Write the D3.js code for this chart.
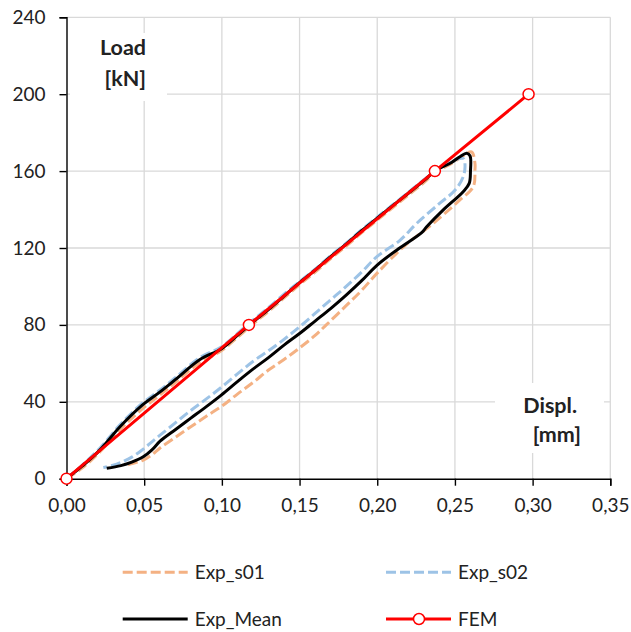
<!DOCTYPE html>
<html><head><meta charset="utf-8">
<script src="https://cdn.jsdelivr.net/npm/d3@7"></script>
<style>body{margin:0;background:#fff}svg{display:block}text{font-family:Lato,"Open Sans",sans-serif;fill:#222}</style>
</head><body><svg id="c" width="631" height="632"></svg>
<script>
const xTicks = [0,0.05,0.10,0.15,0.20,0.25,0.30,0.35];
const yTicks = [0,40,80,120,160,200,240];

const s01X = [0,0.01,0.0216,0.0344,0.0484,0.06,0.07,0.0859,0.0996,0.11,0.12,0.13,0.14,0.15,0.16,0.17,0.18,0.19,0.20,0.21,0.22,0.23,0.2371,0.2478,0.2545,0.2607,0.2629,0.2629,0.2618,0.2532,0.236,0.2175,0.1998,0.190,0.180,0.1672,0.160,0.150,0.140,0.130,0.120,0.110,0.0996,0.090,0.080,0.070,0.0602,0.055,0.0494,0.043,0.037];
const s01Y = [0,5.5,14,25.5,36,43.5,50,60.5,66.5,73.5,80.5,87,94,101,107.5,114.5,121,128,134.5,141,147.5,154,159,164,167.5,170,164,160.6,151.9,145,132.8,121,106.8,98,90,80,74.5,68,62,56.5,50,44,37.5,32.5,27,21.5,16,12.5,9.7,8,6.8];

const s02X = [0,0.01,0.0216,0.0344,0.0484,0.06,0.07,0.0859,0.0996,0.11,0.12,0.13,0.14,0.15,0.16,0.17,0.18,0.19,0.20,0.21,0.22,0.23,0.2371,0.245,0.2515,0.2555,0.2565,0.2553,0.250,0.2403,0.2254,0.2146,0.1998,0.190,0.180,0.170,0.160,0.150,0.140,0.130,0.120,0.110,0.0996,0.090,0.080,0.070,0.060,0.054,0.048,0.042,0.036,0.030,0.0237];
const s02Y = [0,7,16,28,39,46,52.5,63,68.5,75.5,82.5,89,96,102.5,109,116,122.5,129.5,136,142.5,149,155.5,160,163.5,166.3,166.5,163,157,150,143.3,132.8,124,115.5,107.5,100,93,86,79,72.5,66.5,61,54.5,47.5,41.5,35.5,29,22.5,18.5,14.5,11.2,8.8,7,5.8];

const meanX = [0,0.01,0.0216,0.0344,0.0484,0.06,0.07,0.0859,0.0996,0.11,0.12,0.13,0.14,0.15,0.16,0.17,0.18,0.19,0.20,0.21,0.22,0.23,0.2371,0.2478,0.2532,0.2575,0.2597,0.2600,0.2592,0.2553,0.2425,0.2318,0.2286,0.2135,0.1998,0.190,0.180,0.170,0.160,0.150,0.140,0.130,0.120,0.110,0.0996,0.090,0.080,0.070,0.0602,0.055,0.0494,0.042,0.035,0.0259];
const meanY = [0,6.5,15,27,38,45,51.5,62,67.5,74.5,81.5,88,95,102,108.5,115.5,122,129,135.5,142,148.5,155,160,164.5,167.5,169.3,168,160,153.6,149.3,139.8,131,128,119.5,111,103,95.5,88.5,82,75.5,69.5,63,57,50.5,43.5,37.5,31.5,25.5,19.5,15,11.4,8.6,6.8,5.4];

const femX = [0,0.1174,0.2371,0.2974];
const femY = [0,80,160,200];

const svg = d3.select("#c");
const x = d3.scaleLinear().domain([0,0.35]).range([66.5,610.3]);
const y = d3.scaleLinear().domain([0,240]).range([478.7,17.3]);

// grid
const g = svg.append("g");
g.selectAll(".gx").data(xTicks.slice(1)).enter().append("line")
 .attr("x1",d=>x(d)).attr("x2",d=>x(d)).attr("y1",y(0)).attr("y2",y(240))
 .attr("stroke","#d9d9d9").attr("stroke-width",1.3);
g.selectAll(".gy").data(yTicks.slice(1)).enter().append("line")
 .attr("x1",x(0)).attr("x2",x(0.35)).attr("y1",d=>y(d)).attr("y2",d=>y(d))
 .attr("stroke","#d9d9d9").attr("stroke-width",1.3);

// white label boxes
svg.append("rect").attr("x",70).attr("y",33).attr("width",97).attr("height",68).attr("fill","#fff");
svg.append("rect").attr("x",495).attr("y",383).attr("width",109).attr("height",70).attr("fill","#fff");

// axes
const fmt = d=>d.toFixed(2).replace(".",",");
const ax = svg.append("g").attr("transform",`translate(0,${y(0)})`)
 .call(d3.axisBottom(x).tickValues(xTicks).tickFormat(fmt).tickSize(7).tickPadding(13));
const ay = svg.append("g").attr("transform",`translate(${x(0)},0)`)
 .call(d3.axisLeft(y).tickValues(yTicks).tickSize(7).tickPadding(14));
[ax,ay].forEach(a=>{
  a.select(".domain").attr("stroke","#000").attr("stroke-width",1.4);
  a.selectAll(".tick line").attr("stroke","#000").attr("stroke-width",1.4);
  a.selectAll("text").attr("font-size",19).attr("fill","#222").attr("font-family","Lato, sans-serif");
});

// axis title labels
const lab = svg.append("g").attr("font-weight","bold").attr("font-size",21.5).attr("text-anchor","end");
lab.append("text").attr("x",146).attr("y",55).text("Load");
lab.append("text").attr("x",146).attr("y",86).text("[kN]");
lab.append("text").attr("x",577).attr("y",413).text("Displ.");
lab.append("text").attr("x",581).attr("y",442).text("[mm]");

const line = d3.line().x(d=>x(d[0])).y(d=>y(d[1])).curve(d3.curveCatmullRom.alpha(0.5));
const lineL = d3.line().x(d=>x(d[0])).y(d=>y(d[1]));
const zip = (a,b)=>a.map((v,i)=>[v,b[i]]);

const series = [
 {name:"Exp_s01", data:zip(s01X,s01Y), color:"#F4B183", dash:"10,4"},
 {name:"Exp_s02", data:zip(s02X,s02Y), color:"#9DC3E6", dash:"10,4"},
 {name:"Exp_Mean", data:zip(meanX,meanY), color:"#000000", dash:null},
];
series.forEach(s=>{
  svg.append("path").attr("d",line(s.data)).attr("fill","none").attr("stroke",s.color)
   .attr("stroke-width",3).attr("stroke-dasharray",s.dash).attr("stroke-linejoin","round");
});
const fem = zip(femX,femY);
svg.append("path").attr("d",lineL(fem)).attr("fill","none").attr("stroke","#ff0000").attr("stroke-width",3);
svg.selectAll(".fm").data(fem).enter().append("circle")
 .attr("cx",d=>x(d[0])).attr("cy",d=>y(d[1])).attr("r",5.5)
 .attr("fill","#fff").attr("stroke","#ff0000").attr("stroke-width",1.5);

// legend
const leg = [
 {name:"Exp_s01", color:"#F4B183", dash:"10,4", x:122.7, y:572.3},
 {name:"Exp_s02", color:"#9DC3E6", dash:"10,4", x:386, y:572.3},
 {name:"Exp_Mean", color:"#000", dash:null, x:122.7, y:619},
 {name:"FEM", color:"#ff0000", dash:null, x:386, y:619, marker:true},
];
leg.forEach(l=>{
  svg.append("line").attr("x1",l.x).attr("x2",l.x+65).attr("y1",l.y).attr("y2",l.y)
   .attr("stroke",l.color).attr("stroke-width",3).attr("stroke-dasharray",l.dash);
  if(l.marker) svg.append("circle").attr("cx",l.x+33).attr("cy",l.y).attr("r",5.5)
   .attr("fill","#fff").attr("stroke","#ff0000").attr("stroke-width",1.5);
  svg.append("text").attr("x",l.x+72).attr("y",l.y+6.5).attr("font-size",19).text(l.name);
});
</script></body></html>
